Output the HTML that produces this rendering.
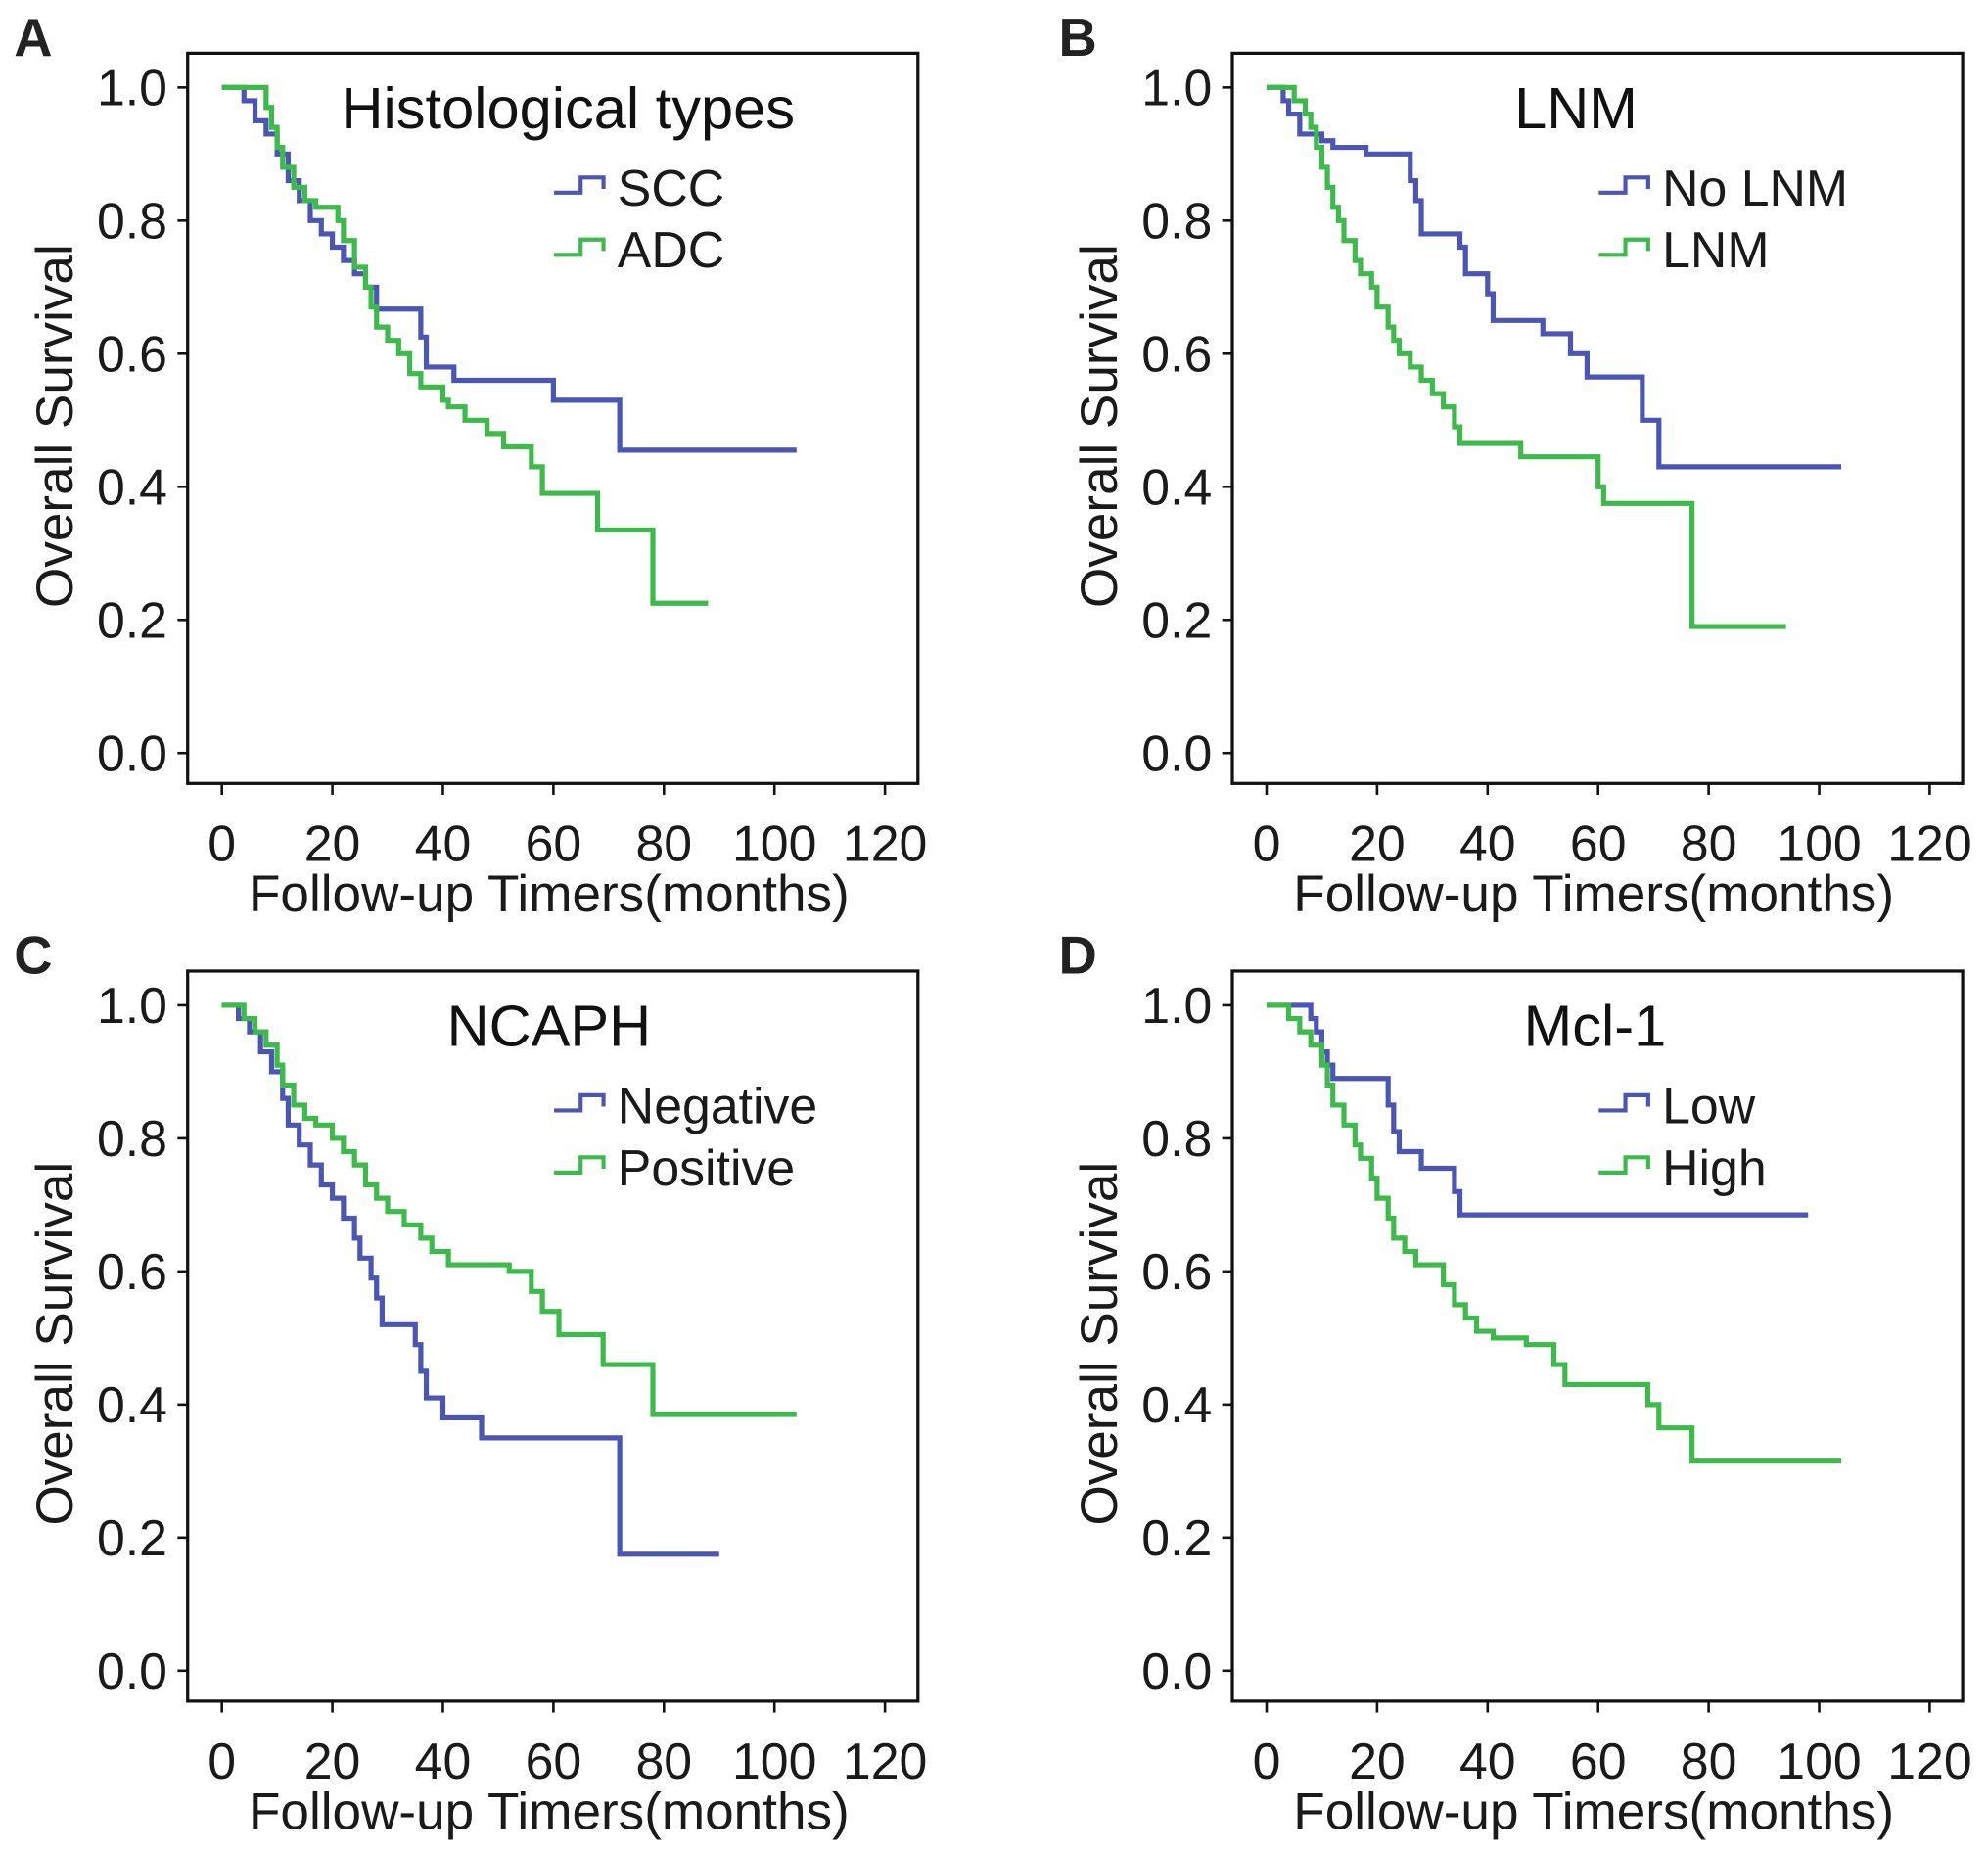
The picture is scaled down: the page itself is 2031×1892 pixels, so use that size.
<!DOCTYPE html>
<html><head><meta charset="utf-8"><style>
html,body{margin:0;padding:0;background:#fff;}
svg{display:block;font-family:"Liberation Sans",Arial,sans-serif;}
</style></head><body>
<svg id="fig" width="2031" height="1892" viewBox="0 0 1568 1461" preserveAspectRatio="none" xmlns="http://www.w3.org/2000/svg"></svg>
<script>
// Panel A: Histological types
const aSccT=[0,4,6,8,10,12,14,16,18,20,22,24,26,28,36,37,42,60,72,104];
const aSccV=[1,0.98,0.95,0.93,0.90,0.86,0.83,0.80,0.78,0.76,0.74,0.72,0.70,0.667,0.625,0.58,0.56,0.53,0.455,0.455];
const aAdcT=[0,8,9,10,11,13,15,17,21,22,24,26,27,28,30,32,34,36,40,41,44,48,51,56,58,61,68,78,88];
const aAdcV=[1,0.97,0.94,0.91,0.88,0.85,0.83,0.82,0.80,0.77,0.73,0.70,0.67,0.64,0.62,0.60,0.57,0.55,0.53,0.52,0.50,0.48,0.46,0.43,0.39,0.39,0.335,0.225,0.225];
// Panel B: LNM
const bNoT=[0,3,4,6,10,12,18,26,27,28,35,36,40,41,50,55,58,68,71,104];
const bNoV=[1,0.98,0.96,0.93,0.92,0.91,0.90,0.86,0.83,0.78,0.76,0.72,0.69,0.65,0.63,0.60,0.565,0.50,0.43,0.43];
const bLnmT=[0,5,7,8,9,10,11,12,13,14,16,17,19,20,22,23,24,26,28,30,32,34,35,36,46,60,61,77,94];
const bLnmV=[1,0.98,0.96,0.94,0.91,0.88,0.85,0.82,0.80,0.77,0.74,0.72,0.70,0.67,0.64,0.62,0.60,0.58,0.56,0.54,0.52,0.49,0.465,0.465,0.445,0.40,0.375,0.19,0.19];
// Panel C: NCAPH
const cNegT=[0,3,5,7,9,11,12,14,16,18,20,22,24,25,27,28,29,30,35,36,37,40,47,72,90];
const cNegV=[1,0.98,0.96,0.93,0.90,0.86,0.82,0.79,0.76,0.73,0.71,0.68,0.65,0.62,0.59,0.56,0.52,0.52,0.49,0.45,0.41,0.38,0.35,0.175,0.175];
const cPosT=[0,4,6,8,10,11,13,15,17,20,22,24,26,28,30,33,36,38,41,43,52,56,58,61,69,78,104];
const cPosV=[1,0.98,0.96,0.94,0.91,0.88,0.85,0.83,0.82,0.80,0.78,0.76,0.73,0.71,0.69,0.67,0.65,0.63,0.61,0.61,0.60,0.57,0.54,0.505,0.46,0.385,0.385];
// Panel D: Mcl-1
const dLowT=[0,8,9,10,11,12,13,22,23,24,28,34,35,98];
const dLowV=[1,0.98,0.96,0.93,0.91,0.89,0.89,0.85,0.81,0.78,0.755,0.72,0.685,0.685];
const dHighT=[0,4,6,8,10,11,12,14,16,17,19,20,22,23,25,27,32,34,36,38,41,47,52,54,58,60,69,71,77,104];
const dHighV=[1,0.98,0.96,0.94,0.91,0.88,0.85,0.82,0.79,0.77,0.74,0.71,0.68,0.65,0.63,0.61,0.58,0.55,0.53,0.51,0.50,0.49,0.46,0.43,0.43,0.43,0.40,0.365,0.315,0.315];

const xTicks=[0,20,40,60,80,100,120];
const yTicks=[0,0.2,0.4,0.6,0.8,1.0];
const yTickLabels=["0.0","0.2","0.4","0.6","0.8","1.0"];
const BLUE="#4a55b5", GREEN="#3cba4a";

const panels=[
 {id:"a",letter:"A",title:"Histological types",tx:448,dx:0,dy:0,s:[["SCC",BLUE,aSccT,aSccV],["ADC",GREEN,aAdcT,aAdcV]]},
 {id:"b",letter:"B",title:"LNM",tx:1243,dx:824,dy:0,s:[["No LNM",BLUE,bNoT,bNoV],["LNM",GREEN,bLnmT,bLnmV]]},
 {id:"c",letter:"C",title:"NCAPH",tx:433,dx:0,dy:724,s:[["Negative",BLUE,cNegT,cNegV],["Positive",GREEN,cPosT,cPosV]]},
 {id:"d",letter:"D",title:"Mcl-1",tx:1258,dx:824,dy:724,s:[["Low",BLUE,dLowT,dLowV],["High",GREEN,dHighT,dHighV]]}
];
const NS="http://www.w3.org/2000/svg";
const svg=document.getElementById('fig');
function mk(tag,attrs,parent,text){const e=document.createElementNS(NS,tag);for(const k in attrs)e.setAttribute(k,attrs[k]);if(text!==undefined)e.textContent=text;parent.appendChild(e);return e;}

panels.forEach(p=>{
  const g=mk('g',{transform:`translate(${p.dx},${p.dy})`},svg);
  
  
  const xs=t=>175+t*(523/120);
  const ys=v=>594-v*525;
  const L=mk('text',{x:11,y:44,'font-size':42,'font-weight':'bold',fill:'#222'},g,p.letter);
  
  
  const fr=mk('rect',{x:148,y:42,width:576,height:576,fill:'none',stroke:'#111','stroke-width':2.5},g);
  
  
  yTicks.forEach((v,i)=>{
    mk('line',{x1:140,x2:148,y1:ys(v),y2:ys(v),stroke:'#111','stroke-width':2},g);
    const t=mk('text',{x:132,y:ys(v)+14,'font-size':40,'text-anchor':'end',fill:'#1a1a1a'},g,yTickLabels[i]);
    
    
  });
  xTicks.forEach(v=>{
    mk('line',{x1:xs(v),x2:xs(v),y1:618,y2:627,stroke:'#111','stroke-width':2},g);
    const t=mk('text',{x:xs(v),y:679,'font-size':40,'text-anchor':'middle',fill:'#1a1a1a'},g,String(v));
    
    
  });
  const xt=mk('text',{x:433,y:719,'font-size':41,'text-anchor':'middle',fill:'#1a1a1a'},g,'Follow-up Timers(months)');
  
  
  const yt=mk('text',{x:0,y:0,'font-size':41,'text-anchor':'middle',fill:'#1a1a1a',transform:'translate(57,336) rotate(-90)'},g,'Overall Survival');
  
  
  const ti=mk('text',{x:p.tx-p.dx,y:101,'font-size':46,'text-anchor':'middle',fill:'#111'},g,p.title);
  
  
  p.s.forEach((s,k)=>{
    const [name,col,T,V]=s;
    let d=`M${xs(T[0])},${ys(V[0])}`;
    for(let i=1;i<T.length;i++){d+=` H${xs(T[i])} V${ys(V[i])}`;}
    const path=mk('path',{d:d,fill:'none',stroke:col,'stroke-width':4},g);
    
    
    const ly=148+k*49;
    const lg=mk('g',{},g);
    
    
    mk('path',{d:`M437,${ly+4} H458 V${ly-8} H476 V${ly+1}`,fill:'none',stroke:col,'stroke-width':3.2},lg);
    mk('text',{x:487,y:ly+14,'font-size':40,fill:'#1a1a1a'},lg,name);
  });
});
</script>
</body></html>
